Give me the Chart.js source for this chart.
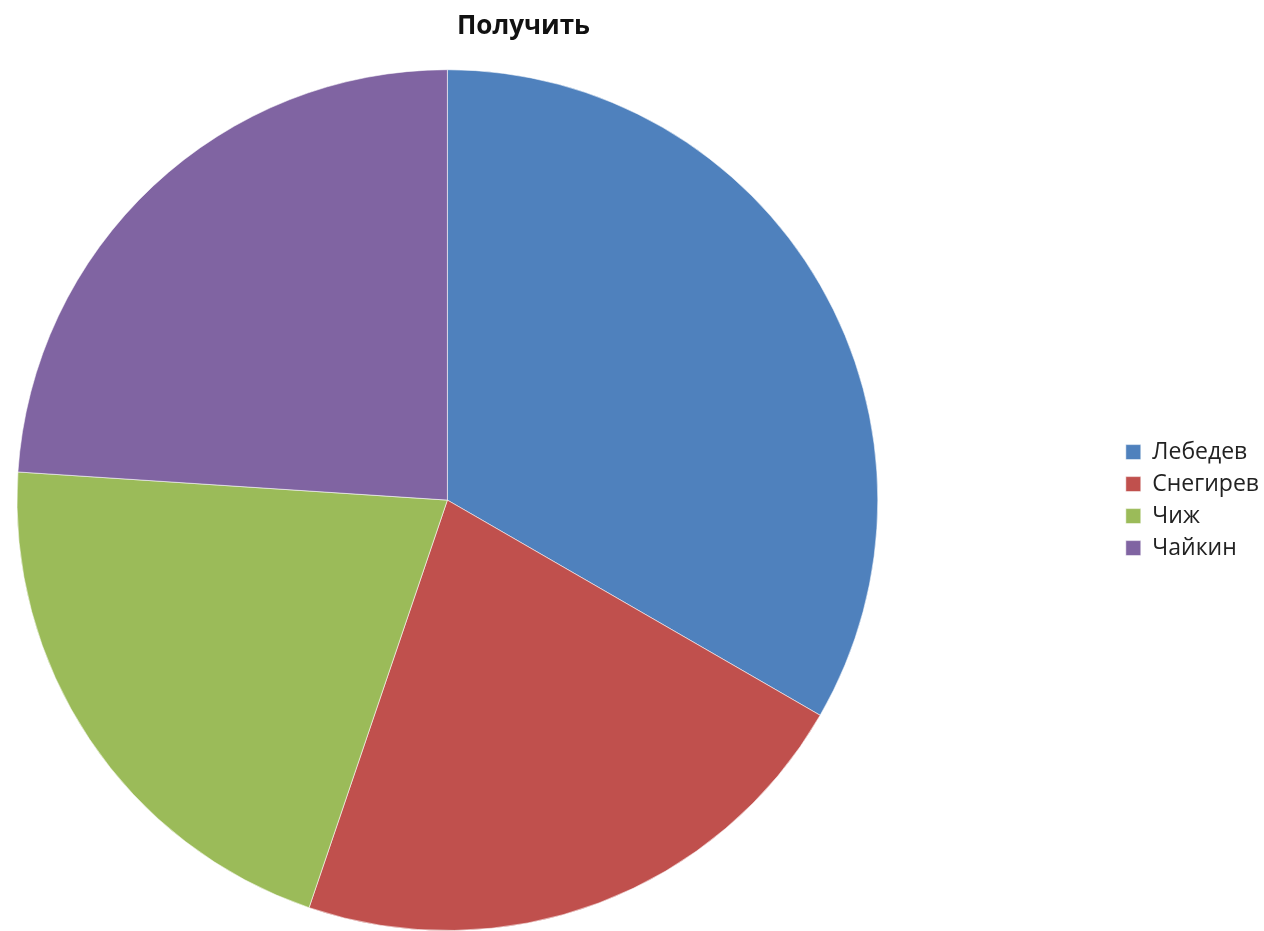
<!DOCTYPE html>
<html lang="ru">
<head>
<meta charset="utf-8">
<title>Получить</title>
<script src="https://cdn.jsdelivr.net/npm/chart.js@4/dist/chart.umd.min.js"></script>
<style>
  html, body { margin: 0; padding: 0; background: #ffffff; overflow: hidden; }
  #page { width: 1264px; height: 931px; position: relative; overflow: hidden; }
  /* the drawing surface runs past the page on both sides so the pie sits left of centre */
  #wrap { position: absolute; left: -222px; top: 0; width: 1491px; height: 931px; }
</style>
</head>
<body>
<div id="page"><div id="wrap"><canvas id="pie"></canvas></div></div>
<script>
// Share of "Получить" per person
const names = ['Лебедев', 'Снегирев', 'Чиж', 'Чайкин'];
const amounts = [8, 5.25, 5, 5.75];
const sliceColors = ['#4F81BD', '#C0504D', '#9BBB59', '#8064A2'];
const chartTitle = 'Получить';

new Chart(document.getElementById('pie'), {
  type: 'pie',
  data: {
    labels: names,
    datasets: [{
      data: amounts,
      backgroundColor: sliceColors,
      borderColor: 'rgba(255,255,255,0.55)',
      borderWidth: 1
    }]
  },
  options: {
    responsive: true,
    maintainAspectRatio: false,
    animation: false,
    layout: { padding: 0 },
    plugins: {
      tooltip: { enabled: false },
      title: {
        display: true,
        text: chartTitle,
        color: '#111111',
        font: { family: '"Open Sans", "DejaVu Sans", sans-serif', size: 26, weight: 'bold' },
        padding: { top: 11, bottom: 27 }
      },
      legend: {
        position: 'right',
        fullSize: false,
        labels: {
          color: '#222222',
          boxWidth: 15,
          boxHeight: 15,
          padding: 9,
          font: { family: '"Open Sans", "DejaVu Sans", sans-serif', size: 23 }
        }
      }
    }
  }
});
</script>
</body>
</html>
